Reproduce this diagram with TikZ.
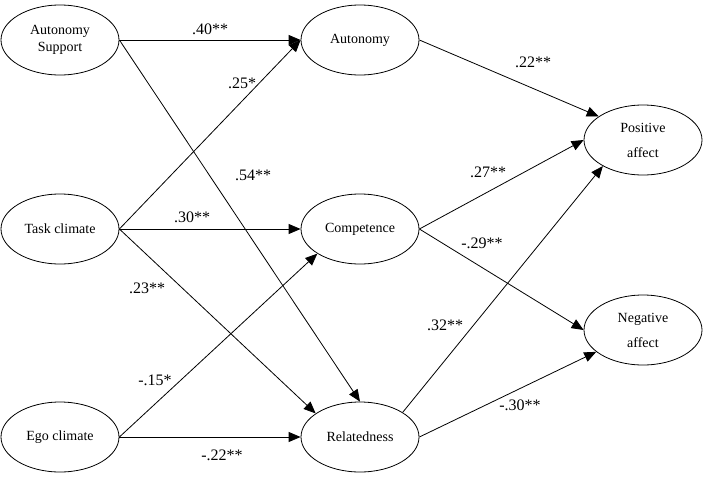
\documentclass[tikz,border=0pt]{standalone}
\usepackage{fontspec}
\setmainfont{Liberation Serif}
\usetikzlibrary{arrows.meta,shapes.geometric}
\tikzset{
  var/.style={draw, ellipse, line width=0.8pt, minimum width=118pt, minimum height=70pt, inner sep=0pt, align=center, font=\fontsize{14}{17}\selectfont},
  affect/.style={var, font=\fontsize{14}{25}\selectfont},
  path/.style={line width=0.8pt, -{Triangle[length=12pt,width=10pt]}},
  coef/.style={font=\fontsize{16}{18}\selectfont, inner sep=0pt}
}
\begin{document}
\begin{tikzpicture}[x=1pt,y=-1pt]
\useasboundingbox (0,0) rectangle (703,479);
\node[var] (as) at (60,40) {Autonomy\\Support};
\node[var] (tc) at (60,229) {Task climate};
\node[var] (ec) at (60,437) {Ego climate};
\node[var] (au) at (360,40) {Autonomy};
\node[var] (co) at (360,229) {Competence};
\node[var] (re) at (360,437) {Relatedness};
\node[affect] (pa) at (643,140) {Positive\\affect};
\node[affect] (na) at (643,330) {Negative\\affect};

\draw[path] (as.east) -- (au.west);
\draw[path] (as.east) -- (re.north);
\draw[path] (tc.east) -- (au.west);
\draw[path] (tc.east) -- (co.west);
\draw[path] (tc.east) -- (re.152);
\draw[path] (ec.east) -- (co.210);
\draw[path] (ec.east) -- (re.west);
\draw[path] (au.east) -- (pa.152);
\draw[path] (co.east) -- (pa.west);
\draw[path] (co.east) -- (na.west);
\draw[path] (re.30) -- (pa.213);
\draw[path] (re.east) -- (na.205);

\node[coef] (l1) at (210,29) {.40**};
\node[coef] (l2) at (242,83) {.25*};
\node[coef] (l3) at (253,175) {.54**};
\node[coef] (l4) at (192,217) {.30**};
\node[coef] (l5) at (147,288) {.23**};
\node[coef] (l6) at (155,380) {-.15*};
\node[coef] (l7) at (222,455) {-.22**};
\node[coef] (l8) at (533,62) {.22**};
\node[coef] (l9) at (488,172) {.27**};
\node[coef] (l10) at (482,243) {-.29**};
\node[coef] (l11) at (445,325) {.32**};
\node[coef] (l12) at (520,405) {-.30**};
\end{tikzpicture}
\end{document}
